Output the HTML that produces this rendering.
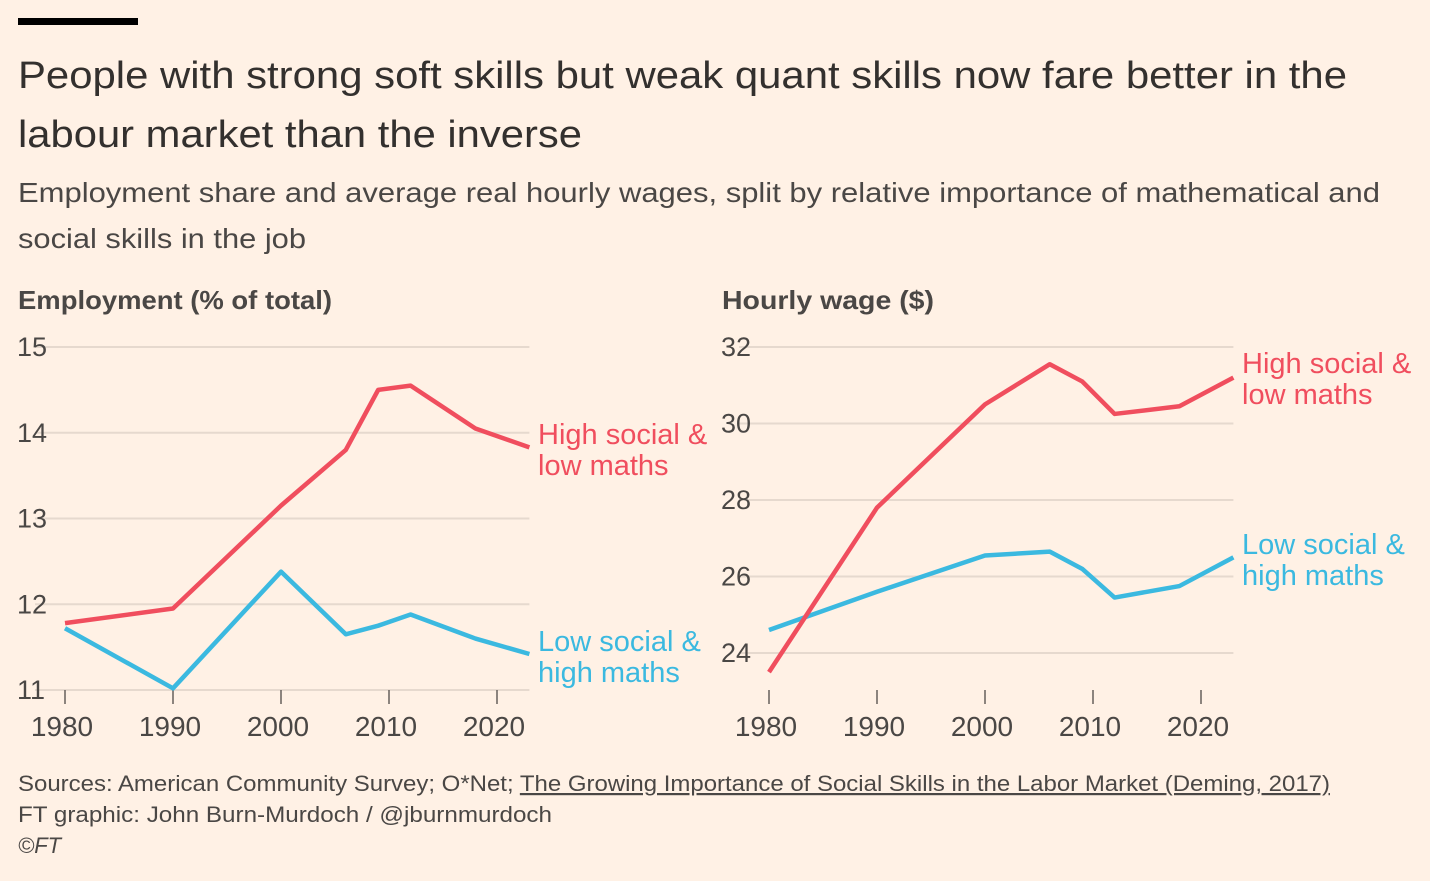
<!DOCTYPE html>
<html><head><meta charset="utf-8">
<style>
body{margin:0;background:#fff1e5;width:1430px;height:876px;overflow:hidden;font-family:"Liberation Sans",sans-serif;color:#33302e}
</style></head>
<body>
<svg width="1430" height="876">
<rect x="18" y="18" width="120" height="7" fill="#000"/>
<text x="18" y="88" font-size="38" fill="#33302e" textLength="1329" lengthAdjust="spacingAndGlyphs">People with strong soft skills but weak quant skills now fare better in the</text>
<text x="18" y="147" font-size="38" fill="#33302e" textLength="564" lengthAdjust="spacingAndGlyphs">labour market than the inverse</text>
<text x="18" y="202" font-size="28" fill="#4a4745" textLength="1362" lengthAdjust="spacingAndGlyphs">Employment share and average real hourly wages, split by relative importance of mathematical and</text>
<text x="18" y="248" font-size="28" fill="#4a4745" textLength="288" lengthAdjust="spacingAndGlyphs">social skills in the job</text>
<text x="18" y="309" font-size="26" font-weight="bold" fill="#4a4745" textLength="314" lengthAdjust="spacingAndGlyphs">Employment (% of total)</text>
<text x="722" y="309" font-size="26" font-weight="bold" fill="#4a4745" textLength="212" lengthAdjust="spacingAndGlyphs">Hourly wage ($)</text>
<g id="left"></g>
<g id="right"></g>
<text x="18" y="791" font-size="22" fill="#4a4745" textLength="1312" lengthAdjust="spacingAndGlyphs">Sources: American Community Survey; O*Net; <tspan text-decoration="underline">The Growing Importance of Social Skills in the Labor Market (Deming, 2017)</tspan></text>
<text x="18" y="822" font-size="22" fill="#4a4745" textLength="534" lengthAdjust="spacingAndGlyphs">FT graphic: John Burn-Murdoch / @jburnmurdoch</text>
<text x="18" y="853" font-size="22" fill="#4a4745" font-style="italic">©FT</text>
</svg>
<script>
const years=[1980,1990,2000,2006,2009,2012,2018,2023];
const empRed=[11.78,11.95,13.15,13.8,14.5,14.55,14.05,13.83];
const empBlue=[11.72,11.02,12.38,11.65,11.75,11.88,11.6,11.42];
const wageRed=[23.5,27.8,30.5,31.55,31.1,30.25,30.45,31.2];
const wageBlue=[24.6,25.6,26.55,26.65,26.2,25.45,25.75,26.5];
const empTicks=[11,12,13,14,15];
const wageTicks=[24,26,28,30,32];
const xTicks=[1980,1990,2000,2010,2020];
const NS="http://www.w3.org/2000/svg";
function mk(p,t,a){const e=document.createElementNS(NS,t);for(const k in a)e.setAttribute(k,a[k]);p.appendChild(e);return e;}
function draw(g,x0,yMin,yMax,yTop,yBot,ticks,red,blue,labelX,redY,blueY){
 const x=v=>x0+(v-1980)*10.8;
 const y=v=>yBot-(v-yMin)/(yMax-yMin)*(yBot-yTop);
 ticks.forEach(t=>{
  const l=mk(g,'line',{x1:x0-30,x2:x(2023),y1:y(t),y2:y(t),stroke:'#e6d9ce','stroke-width':2});
  
  const tx=mk(g,'text',{x:x0-48,y:y(t)+9,'font-size':27,fill:'#4a4745'});tx.textContent=t;
  
 });
 xTicks.forEach(t=>{
  const l=mk(g,'line',{x1:x(t),x2:x(t),y1:690,y2:704,stroke:'#66605c','stroke-width':1.5});
  
  const tx=mk(g,'text',{x:x(t)-3,y:736,'font-size':28,fill:'#4a4745','text-anchor':'middle'});tx.textContent=t;
  
 });
 [[blue,'#3bb9e0','low-social-high-maths-line'],[red,'#f04e5e','high-social-low-maths-line']].forEach(([d,c,n])=>{
  const p=mk(g,'polyline',{points:d.map((v,i)=>x(years[i])+','+y(v)).join(' '),fill:'none',stroke:c,'stroke-width':4.5,'stroke-linejoin':'round'});
  
 });
 [['High social &','low maths','#f04e5e',redY,'high-social-label'],['Low social &','high maths','#3bb9e0',blueY,'low-social-label']].forEach(([a,b,c,yy,n])=>{
  const t=mk(g,'text',{x:labelX,y:yy,'font-size':29,fill:c});
  
  mk(t,'tspan',{x:labelX}).textContent=a;mk(t,'tspan',{x:labelX,dy:31}).textContent=b;
 });
}
draw(document.getElementById('left'),65,11,15,347,690,empTicks,empRed,empBlue,538,444,651);
draw(document.getElementById('right'),769,24,32,347,653,wageTicks,wageRed,wageBlue,1242,373,554);
</script>
</body></html>
